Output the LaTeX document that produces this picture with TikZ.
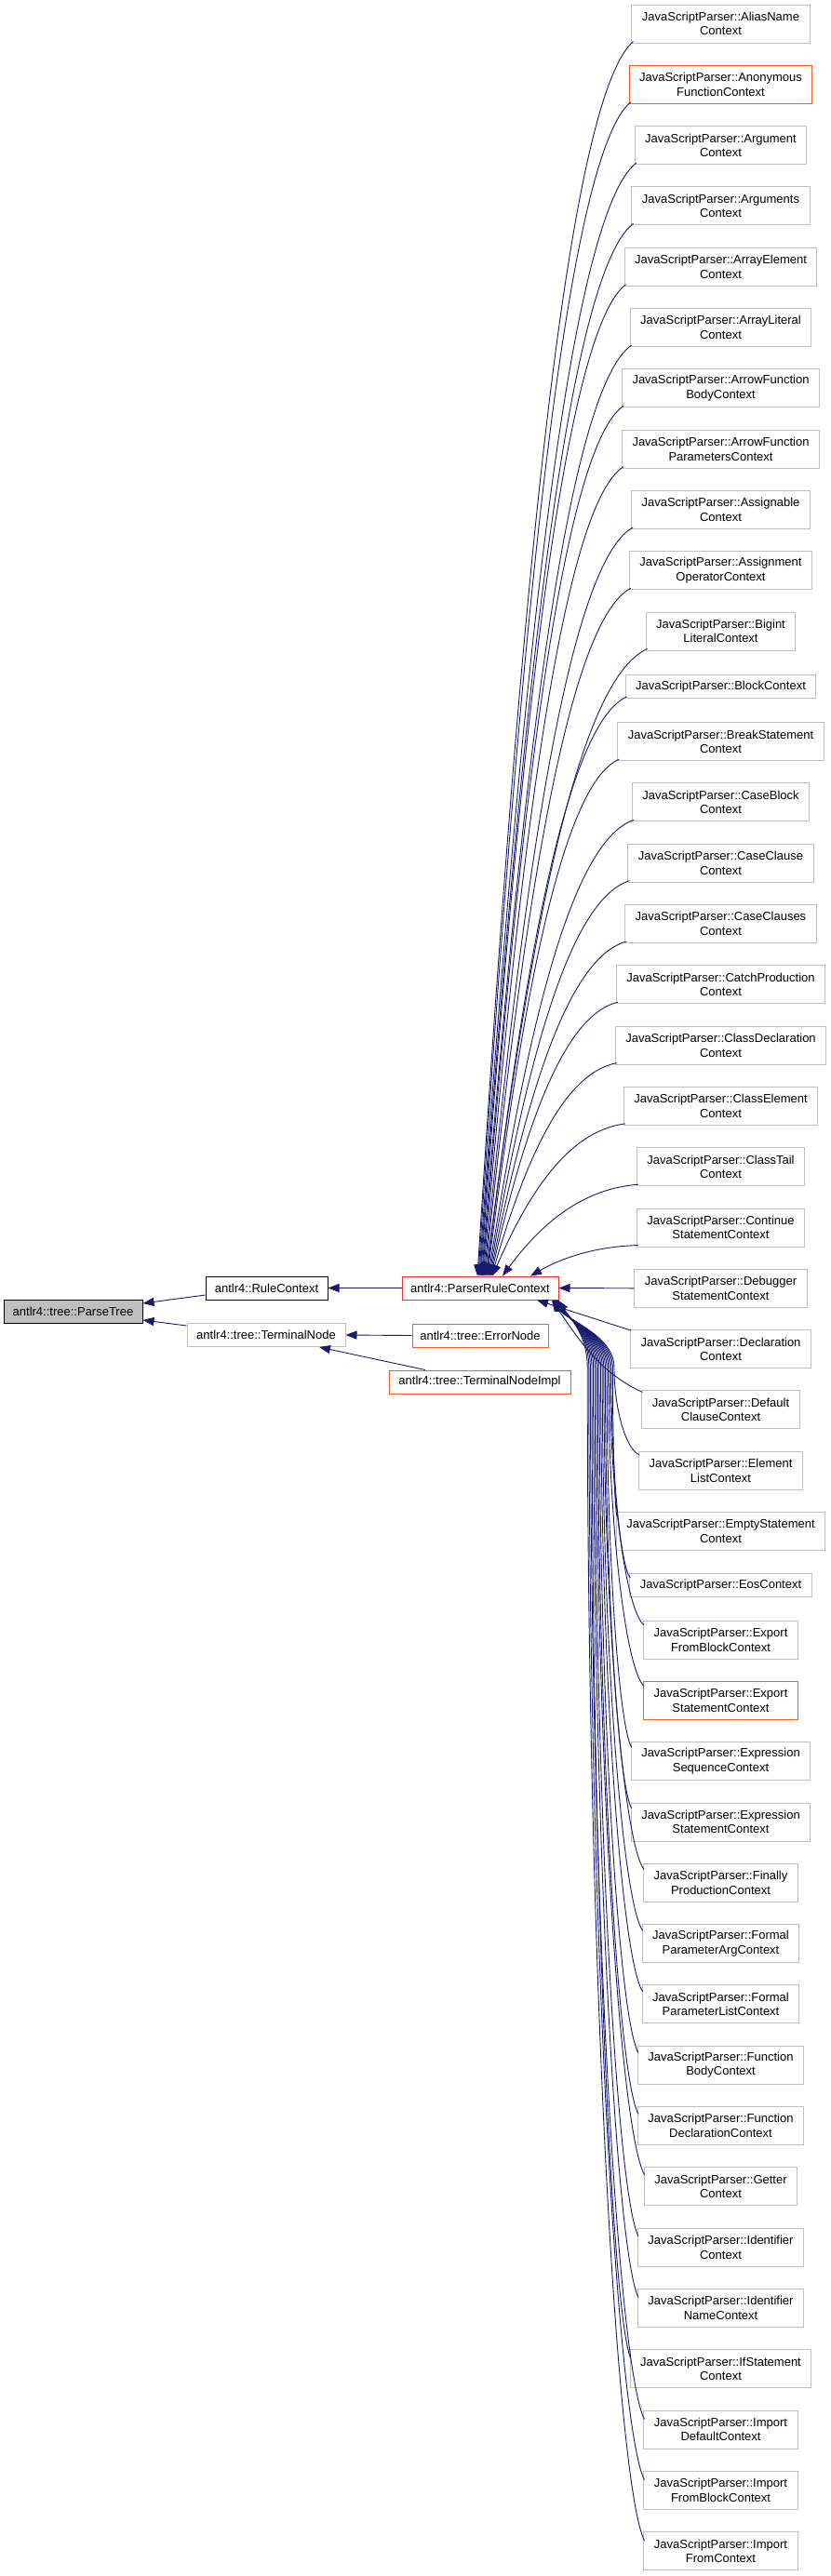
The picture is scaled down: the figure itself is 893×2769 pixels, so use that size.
\documentclass[tikz,border=0pt]{standalone}
\usepackage{fontspec}
\setmainfont{Liberation Sans}
\usetikzlibrary{arrows.meta,calc}
\definecolor{mblue}{HTML}{191970}
\definecolor{gborder}{HTML}{BFBFBF}
\definecolor{oborder}{HTML}{FF5A1F}
\definecolor{rborder}{HTML}{FF2A2A}
\definecolor{gfill}{HTML}{BFBFBF}
\begin{document}
\begin{tikzpicture}[x=1pt,y=-1pt,
  box/.style={draw, line width=1pt, fill=white, inner xsep=11pt, inner ysep=0pt, align=center, font=\fontsize{13}{15.5}\selectfont},
  js/.style={box, draw=gborder, minimum height=41pt},
  jso/.style={box, draw=oborder, minimum height=41pt},
  jss/.style={box, draw=gborder, minimum height=25pt},
  lbox/.style={box, inner xsep=0pt, minimum height=25pt},
  inh/.style={draw=mblue, line width=0.9pt, -{Triangle[length=12pt,width=9pt]}}
]
\fill[white] (0,0) rectangle (893,2769);
\useasboundingbox (0,0) rectangle (893,2769);

% left part
\node[lbox, fill=gfill, draw=black, minimum width=149pt] (pt) at (78.5,1409.5) {antlr4::tree::ParseTree};
\node[lbox, draw=black, minimum width=131pt] (rc) at (286.5,1384.5) {antlr4::RuleContext};
\node[lbox, draw=gborder, minimum width=170pt] (tn) at (286,1435) {antlr4::tree::TerminalNode};
\node[lbox, draw=rborder, minimum width=168pt] (pr) at (516,1384.5) {antlr4::ParserRuleContext};
\node[lbox, draw=oborder, minimum width=146pt] (en) at (516,1435.5) {antlr4::tree::ErrorNode};
\node[lbox, draw=oborder, minimum width=195pt] (tni) at (515.5,1485.5) {antlr4::tree::TerminalNodeImpl};

% right column
\foreach \i/\yy/\sty/\txt in {
 1/25.5/js/{JavaScriptParser::AliasName\\Context},
 2/90.8/jso/{JavaScriptParser::Anonymous\\FunctionContext},
 3/156.1/js/{JavaScriptParser::Argument\\Context},
 4/221.4/js/{JavaScriptParser::Arguments\\Context},
 5/286.7/js/{JavaScriptParser::ArrayElement\\Context},
 6/352.0/js/{JavaScriptParser::ArrayLiteral\\Context},
 7/417.3/js/{JavaScriptParser::ArrowFunction\\BodyContext},
 8/482.6/js/{JavaScriptParser::ArrowFunction\\ParametersContext},
 9/547.9/js/{JavaScriptParser::Assignable\\Context},
 10/613.2/js/{JavaScriptParser::Assignment\\OperatorContext},
 11/678.5/js/{JavaScriptParser::Bigint\\LiteralContext},
 12/737.8/jss/{JavaScriptParser::BlockContext},
 13/797.1/js/{JavaScriptParser::BreakStatement\\Context},
 14/862.4/js/{JavaScriptParser::CaseBlock\\Context},
 15/927.7/js/{JavaScriptParser::CaseClause\\Context},
 16/993.0/js/{JavaScriptParser::CaseClauses\\Context},
 17/1058.3/js/{JavaScriptParser::CatchProduction\\Context},
 18/1123.6/js/{JavaScriptParser::ClassDeclaration\\Context},
 19/1188.9/js/{JavaScriptParser::ClassElement\\Context},
 20/1254.2/js/{JavaScriptParser::ClassTail\\Context},
 21/1319.5/js/{JavaScriptParser::Continue\\StatementContext},
 22/1384.8/js/{JavaScriptParser::Debugger\\StatementContext},
 23/1450.1/js/{JavaScriptParser::Declaration\\Context},
 24/1515.4/js/{JavaScriptParser::Default\\ClauseContext},
 25/1580.7/js/{JavaScriptParser::Element\\ListContext},
 26/1646.0/js/{JavaScriptParser::EmptyStatement\\Context},
 27/1704.3/jss/{JavaScriptParser::EosContext},
 28/1762.6/js/{JavaScriptParser::Export\\FromBlockContext},
 29/1827.9/jso/{JavaScriptParser::Export\\StatementContext},
 30/1893.2/js/{JavaScriptParser::Expression\\SequenceContext},
 31/1958.5/js/{JavaScriptParser::Expression\\StatementContext},
 32/2023.8/js/{JavaScriptParser::Finally\\ProductionContext},
 33/2089.1/js/{JavaScriptParser::Formal\\ParameterArgContext},
 34/2154.4/js/{JavaScriptParser::Formal\\ParameterListContext},
 35/2219.7/js/{JavaScriptParser::Function\\BodyContext},
 36/2285.0/js/{JavaScriptParser::Function\\DeclarationContext},
 37/2350.3/js/{JavaScriptParser::Getter\\Context},
 38/2415.6/js/{JavaScriptParser::Identifier\\Context},
 39/2480.9/js/{JavaScriptParser::Identifier\\NameContext},
 40/2546.2/js/{JavaScriptParser::IfStatement\\Context},
 41/2611.5/js/{JavaScriptParser::Import\\DefaultContext},
 42/2676.8/js/{JavaScriptParser::Import\\FromBlockContext},
 43/2742.1/js/{JavaScriptParser::Import\\FromContext}}
 {\node[\sty] (js\i) at (774.5,\yy) {\txt};}

% left edges
\draw[inh] ([yshift=-7.5pt]rc.west) -- ([yshift=8.5pt]pt.east);
\draw[inh] ([yshift=10pt]tn.west) -- ([yshift=-9.5pt]pt.east);
\draw[inh] (pr.west) -- (rc.east);
\draw[inh] (en.west) -- (tn.east);
\draw[inh] ([xshift=-58.5pt]tni.north) -- ([xshift=57pt]tn.south);

% upper edges
\foreach \i/\off in {1/-3,2/-2.1,3/-1.2,4/-0.3,5/0.6,6/1.5,7/2.4,8/3.3,9/4.2,10/5.1,11/6,12/6.9,13/7.8,14/8.7,15/9.6,16/10.5,17/11.4,18/12.3,19/13.2,20/24,21/54}
{\draw[inh] let \p1=([shift={(2,-2)}]js\i.south west), \p2=([xshift=\off pt]pr.north) in
  (\p1) .. controls (0.55*\x1+0.45*\x2, 0.95*\y1+0.05*\y2) and (0.75*\x2+0.25*\x1, 0.5*\y2+0.5*\y1) .. (\p2);}

% straight edge
\draw[inh] (js22.west) -- (pr.east);

% lower edges
\draw[inh] ([shift={(1,1)}]js23.north west) -- ([xshift=61pt]pr.south);
\draw[inh] let \p1=([shift={(1,2)}]js24.north west), \p2=([xshift=77pt]pr.south) in
  (\p1) .. controls (0.55*\x1+0.45*\x2, 0.8*\y1+0.2*\y2) and (\x2+30pt, 0.55*\y2+0.45*\y1) .. (\p2);
\foreach \i/\off/\dn/\xm in {25/78.0/4/660,26/78.3/4.4/658.4,27/78.6/4.8/656.8,28/78.9/5.2/655.2,29/79.2/5.6/653.6,30/79.5/6/652,31/79.8/6.4/650.4,32/80.1/6.8/648.8,33/80.4/7.2/647.2,34/80.7/7.6/645.6,35/81/8/644,36/81.3/8.4/642.4,37/81.6/8.8/640.8,38/81.9/9.2/639.2,39/82.2/9.6/637.6,40/82.5/10/636,41/82.8/10/634.4,42/83.1/10/632.8,43/83.4/10/631.2}
{\draw[inh] let \p1=([shift={(1,\dn)}]js\i.north west), \p2=([xshift=\off pt]pr.south), \p3=(\xm,1470) in
  (\p1) .. controls (0.5*\x1+0.5*\x3, 0.95*\y1+0.05*\y3) and (\x3, 0.5*\y1+0.5*\y3) .. (\p3)
  .. controls (\x3, \y3+35pt) and (\x2+15pt, \y2-22pt) .. (\p2);}
\end{tikzpicture}
\end{document}
